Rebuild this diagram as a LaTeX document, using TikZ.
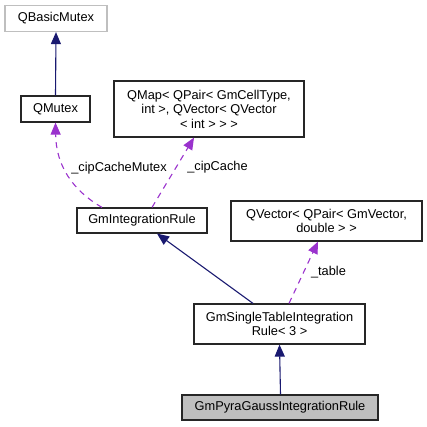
\documentclass[tikz,border=0pt]{standalone}
\usepackage{fontspec}
\setmainfont{Liberation Sans}
\usetikzlibrary{arrows.meta}
\definecolor{navy}{RGB}{25,25,112}
\definecolor{orchid}{RGB}{154,50,205}
\definecolor{boxgray}{RGB}{191,191,191}
\tikzset{
  cls/.style={draw=black!85, line width=1.2pt, fill=white, inner sep=0pt, align=center,
    font=\fontsize{12.8}{14.5}\selectfont, text=black},
  inherit/.style={draw=navy, line width=1.1pt, -{Triangle[length=12pt,width=10pt]}},
  usage/.style={draw=orchid, line width=1.1pt, dash pattern=on 6pt off 5pt,
    -{Triangle[length=12pt,width=10pt,fill=orchid]}},
  lbl/.style={font=\fontsize{12.8}{14.5}\selectfont, inner sep=0pt, text=black}
}
\begin{document}
\begin{tikzpicture}[x=1pt,y=-1pt]
\useasboundingbox (0,0) rectangle (427,427);
\node[cls, draw=boxgray, minimum width=102pt, minimum height=26pt] (qbasic) at (56,18.5) {QBasicMutex};
\node[cls, minimum width=69pt, minimum height=26pt] (qmutex) at (55.5,109) {QMutex};
\node[cls, minimum width=190pt, minimum height=56pt] (qmap) at (209,109) {QMap< QPair< GmCellType,\\int >, QVector< QVector\\< int > > >};
\node[cls, minimum width=130pt, minimum height=25pt] (gir) at (142,220.5) {GmIntegrationRule};
\node[cls, minimum width=191pt, minimum height=40pt] (qvec) at (326.5,221) {QVector< QPair< GmVector,\\double > >};
\node[cls, minimum width=171pt, minimum height=40pt] (single) at (279.5,324) {GmSingleTableIntegration\\Rule< 3 >};
\node[cls, fill=boxgray, minimum width=196pt, minimum height=25pt] (pyra) at (280,407.5) {GmPyraGaussIntegrationRule};

\draw[inherit] (qmutex.north) -- (qbasic.south);
\draw[inherit] ([xshift=-26.5pt]single.north) -- ([xshift=15pt]gir.south);
\draw[inherit] ([xshift=0.5pt]pyra.north) -- (single.south);

\draw[usage] ([xshift=9.5pt]single.north) -- ([xshift=-8.5pt]qvec.south);
\draw[usage] ([xshift=10pt]gir.north) -- ([xshift=-15pt]qmap.south);
\draw[usage] ([xshift=-40pt]gir.north) .. controls (72,190) and (56,165) .. (qmutex.south);

\node[lbl] (lmutex) at (119,168) {\_cipCacheMutex};
\node[lbl] (lcache) at (217.5,167) {\_cipCache};
\node[lbl] (ltable) at (328.5,272) {\_table};
\end{tikzpicture}
\end{document}
